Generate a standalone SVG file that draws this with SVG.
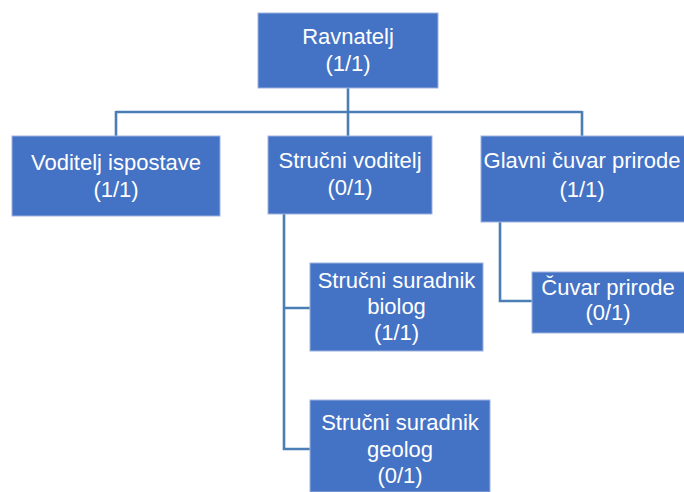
<svg xmlns="http://www.w3.org/2000/svg" width="684" height="492" viewBox="0 0 684 492">
<style>
.box{fill:#4472C4;stroke:#9DB3E0;stroke-width:1}
.t{font-family:"Liberation Sans",Arial,sans-serif;font-size:22px;fill:#FFFFFF;text-anchor:middle}
.c{fill:none;stroke:#4A7EB5;stroke-width:2.6}
</style>
<rect width="684" height="492" fill="#FFFFFF"/>
<g id="connectors">
<path class="c" d="M348 88V112M116 112H582M116 111V136M348 111V136M582 111V136"/>
<path class="c" d="M284 214V449H310M284 308H310"/>
<path class="c" d="M500 222V301H532"/>
</g>
<g id="ravnatelj">
<rect class="box" x="258" y="13" width="180" height="75"/>
<text class="t" x="348" y="44">Ravnatelj</text>
<text class="t" x="348" y="71">(1/1)</text>
</g>
<g id="voditelj-ispostave">
<rect class="box" x="12" y="136" width="208" height="80"/>
<text class="t" x="116" y="170">Voditelj ispostave</text>
<text class="t" x="116" y="197">(1/1)</text>
</g>
<g id="strucni-voditelj">
<rect class="box" x="268" y="136" width="164" height="78"/>
<text class="t" x="350" y="168">Stručni voditelj</text>
<text class="t" x="350" y="195">(0/1)</text>
</g>
<g id="glavni-cuvar">
<rect class="box" x="481" y="136" width="204" height="86"/>
<text class="t" x="582" y="168">Glavni čuvar prirode</text>
<text class="t" x="582" y="197">(1/1)</text>
</g>
<g id="biolog">
<rect class="box" x="310" y="263" width="173" height="88"/>
<text class="t" x="396.5" y="288">Stručni suradnik</text>
<text class="t" x="396.5" y="314">biolog</text>
<text class="t" x="396.5" y="340">(1/1)</text>
</g>
<g id="geolog">
<rect class="box" x="310" y="400" width="180" height="92"/>
<text class="t" x="400" y="430">Stručni suradnik</text>
<text class="t" x="400" y="457">geolog</text>
<text class="t" x="400" y="483">(0/1)</text>
</g>
<g id="cuvar-prirode">
<rect class="box" x="532" y="272" width="153" height="61"/>
<text class="t" x="608" y="295">Čuvar prirode</text>
<text class="t" x="608" y="320">(0/1)</text>
</g>
</svg>
